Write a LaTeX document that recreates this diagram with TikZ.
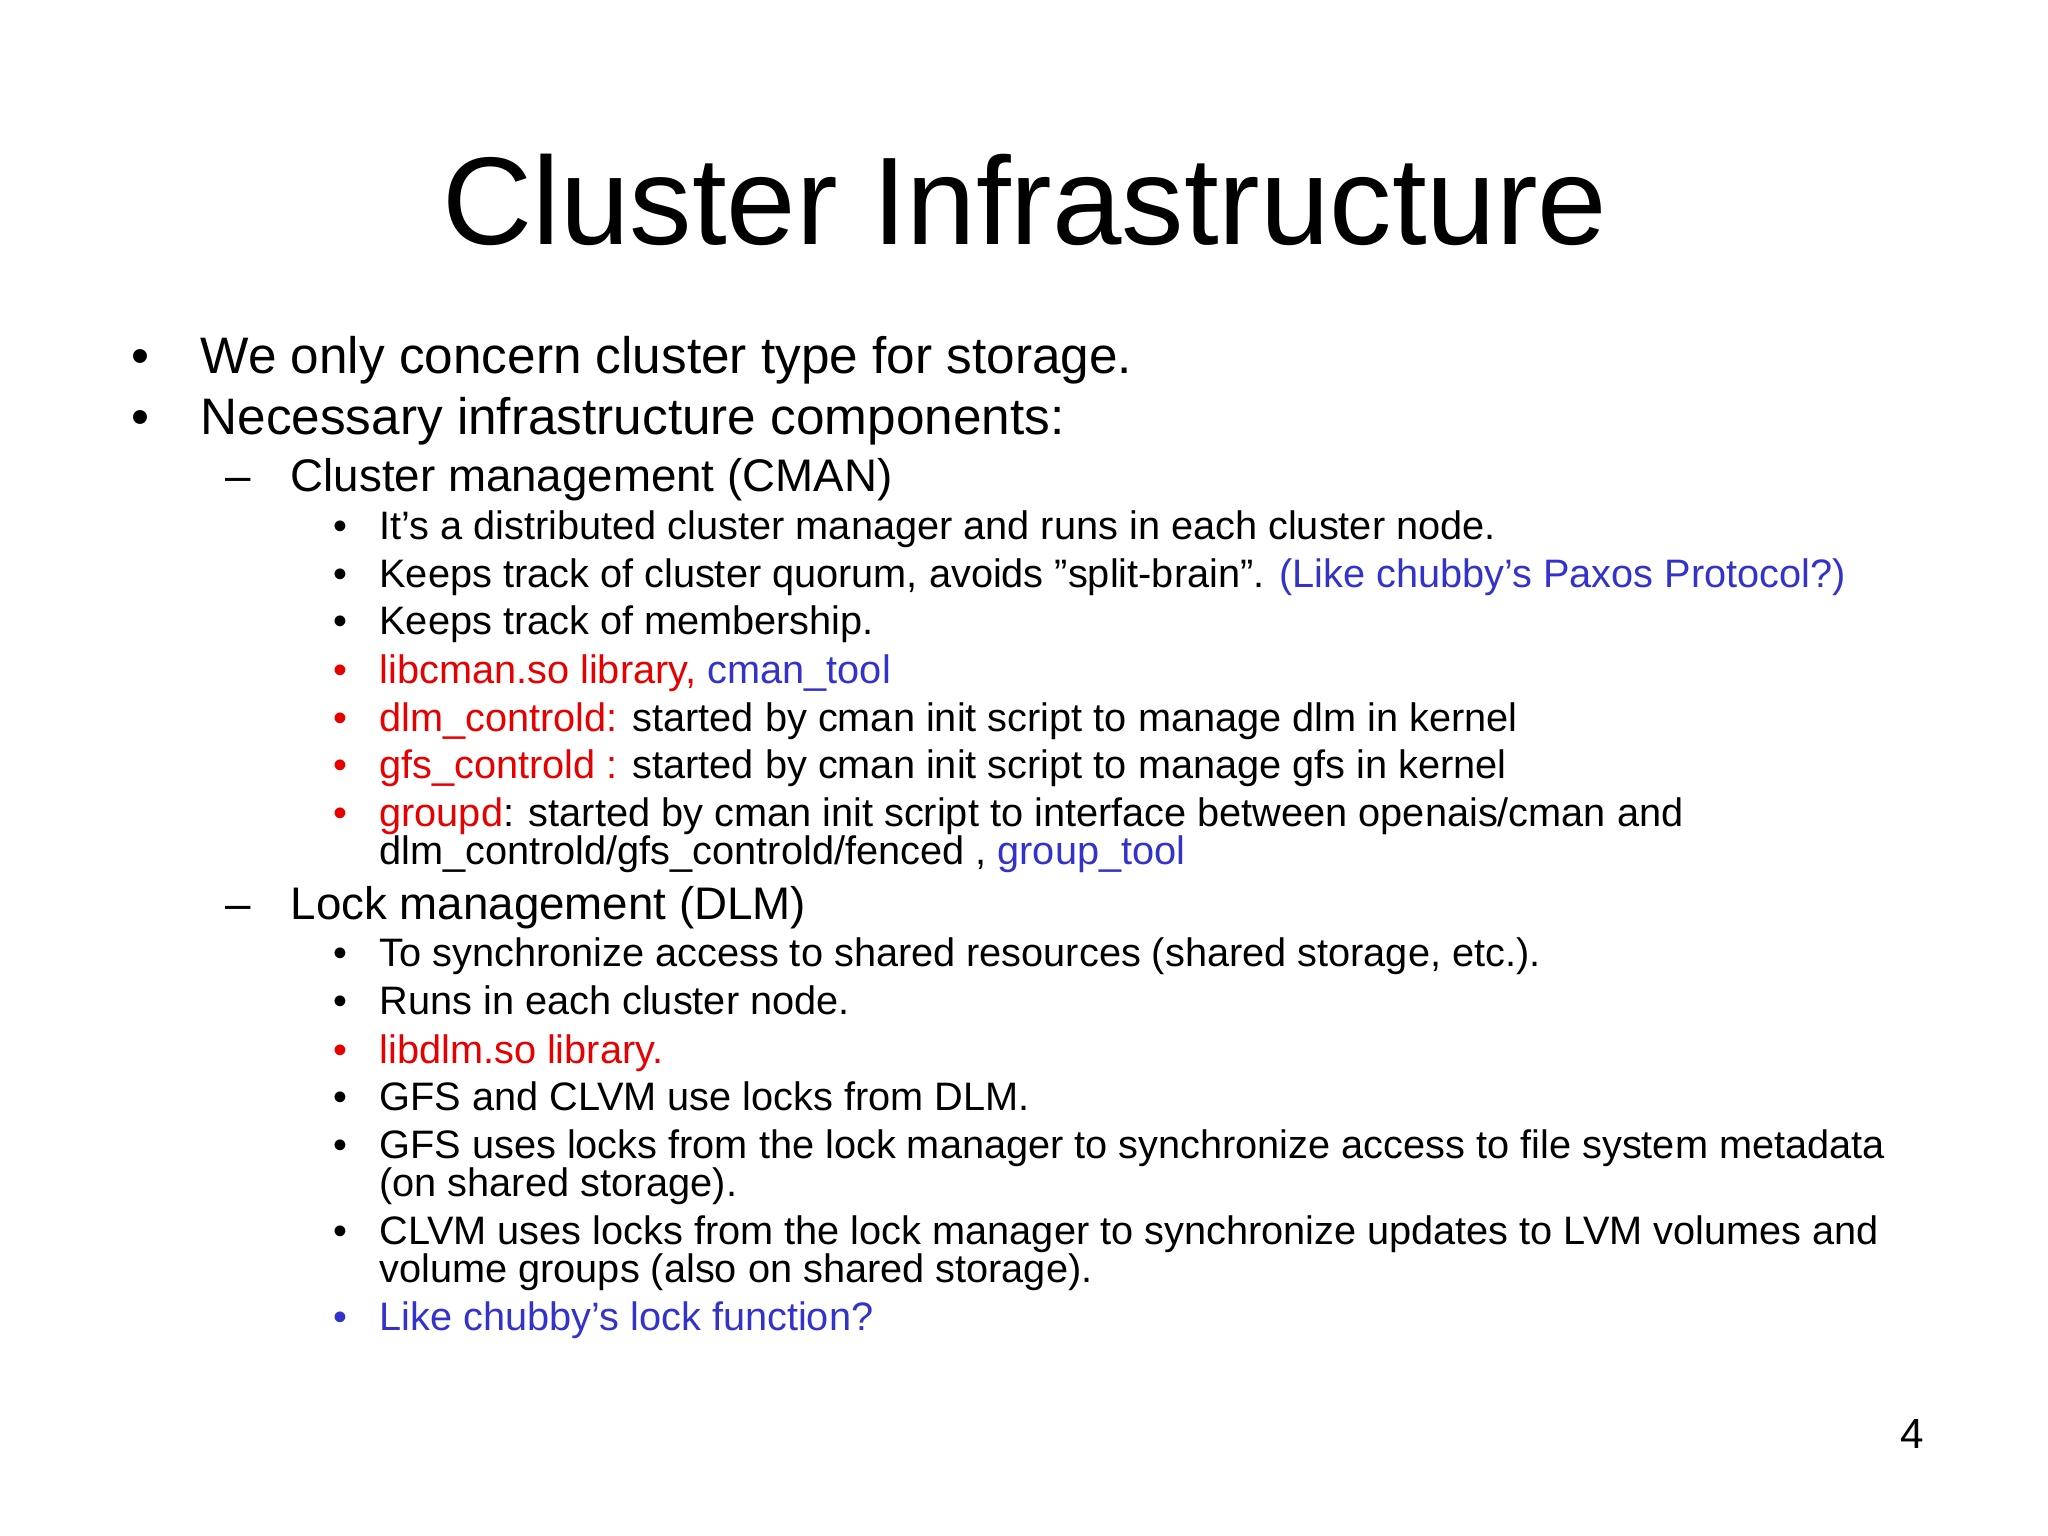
\documentclass[tikz,border=0pt]{standalone}
\usepackage{fontspec}
\setmainfont{Liberation Sans}
\definecolor{lblue}{RGB}{51,51,204}
\definecolor{lred}{RGB}{230,0,0}
\begin{document}
\begin{tikzpicture}[
  t/.style={anchor=base west,inner sep=0pt,font=\fontsize{14.6}{18}\selectfont},
  s/.style={anchor=base west,inner sep=0pt,font=\fontsize{13}{16}\selectfont},
  u/.style={anchor=base west,inner sep=0pt,font=\fontsize{11.3}{14}\selectfont},
  bl/.style={anchor=base west,inner sep=0pt,font=\fontsize{11.3}{14}\selectfont}]
\useasboundingbox (0,0) rectangle (20.48,15.36);
\node[anchor=base,inner sep=0pt,font=\fontsize{35.5}{40}\selectfont] (title) at (10.25,12.918) {Cluster Infrastructure};
\node[t] (b1) at (1.306,11.625) {•}; \node[t] (l1) at (1.998,11.625) {We only concern cluster type for storage.};
\node[t] (b2) at (1.306,11.011) {•}; \node[t] (l2) at (1.998,11.011) {Necessary infrastructure components:};
\node[s] (d1) at (2.246,10.449) {–}; \node[s] (m1) at (2.900,10.449) {Cluster management (CMAN)};
\node[bl] (c1b) at (3.33,9.966) {•}; \node[u] (c1) at (3.788,9.966) {It’s a distributed cluster manager and runs in each cluster node.};
\node[bl] (c2b) at (3.33,9.483) {•}; \node[u] (c2) at (3.788,9.483) {Keeps track of cluster quorum, avoids \symbol{34}split-brain\symbol{34}. \textcolor{lblue}{(Like chubby’s Paxos Protocol?)}};
\node[bl] (c3b) at (3.33,9.012) {•}; \node[u] (c3) at (3.788,9.012) {Keeps track of membership.};
\node[bl,text=lred] (c4b) at (3.33,8.529) {•}; \node[u] (c4) at (3.788,8.529) {\textcolor{lred}{libcman.so library,} \textcolor{lblue}{cman\_tool}};
\node[bl,text=lred] (c5b) at (3.33,8.046) {•}; \node[u] (c5) at (3.788,8.046) {\textcolor{lred}{dlm\_controld:} started by cman init script to manage dlm in kernel};
\node[bl,text=lred] (c6b) at (3.33,7.576) {•}; \node[u] (c6) at (3.788,7.576) {\textcolor{lred}{gfs\_controld :} started by cman init script to manage gfs in kernel};
\node[bl,text=lred] (c7b) at (3.33,7.092) {•}; \node[u] (c7) at (3.788,7.092) {\textcolor{lred}{groupd}: started by cman init script to interface between openais/cman and};
\node[u] (c7x) at (3.788,6.714) {dlm\_controld/gfs\_controld/fenced , \textcolor{lblue}{group\_tool}};
\node[s] (d2) at (2.246,6.165) {–}; \node[s] (m2) at (2.900,6.165) {Lock management (DLM)};
\node[bl] (e1b) at (3.33,5.695) {•}; \node[u] (e1) at (3.788,5.695) {To synchronize access to shared resources (shared storage, etc.).};
\node[bl] (e2b) at (3.33,5.212) {•}; \node[u] (e2) at (3.788,5.212) {Runs in each cluster node.};
\node[bl,text=lred] (e3b) at (3.33,4.728) {•}; \node[u,text=lred] (e3) at (3.788,4.728) {libdlm.so library.};
\node[bl] (e4b) at (3.33,4.258) {•}; \node[u] (e4) at (3.788,4.258) {GFS and CLVM use locks from DLM.};
\node[bl] (e5b) at (3.33,3.775) {•}; \node[u] (e5) at (3.788,3.775) {GFS uses locks from the lock manager to synchronize access to file system metadata};
\node[u] (e5x) at (3.788,3.396) {(on shared storage).};
\node[bl] (e6b) at (3.33,2.913) {•}; \node[u] (e6) at (3.788,2.913) {CLVM uses locks from the lock manager to synchronize updates to LVM volumes and};
\node[u] (e6x) at (3.788,2.534) {volume groups (also on shared storage).};
\node[bl,text=lblue] (e7b) at (3.33,2.051) {•}; \node[u,text=lblue] (e7) at (3.788,2.051) {Like chubby’s lock function?};
\node[anchor=base,inner sep=0pt,font=\fontsize{12}{14}\selectfont] (pg) at (19.12,0.875) {4};
\end{tikzpicture}
\end{document}
